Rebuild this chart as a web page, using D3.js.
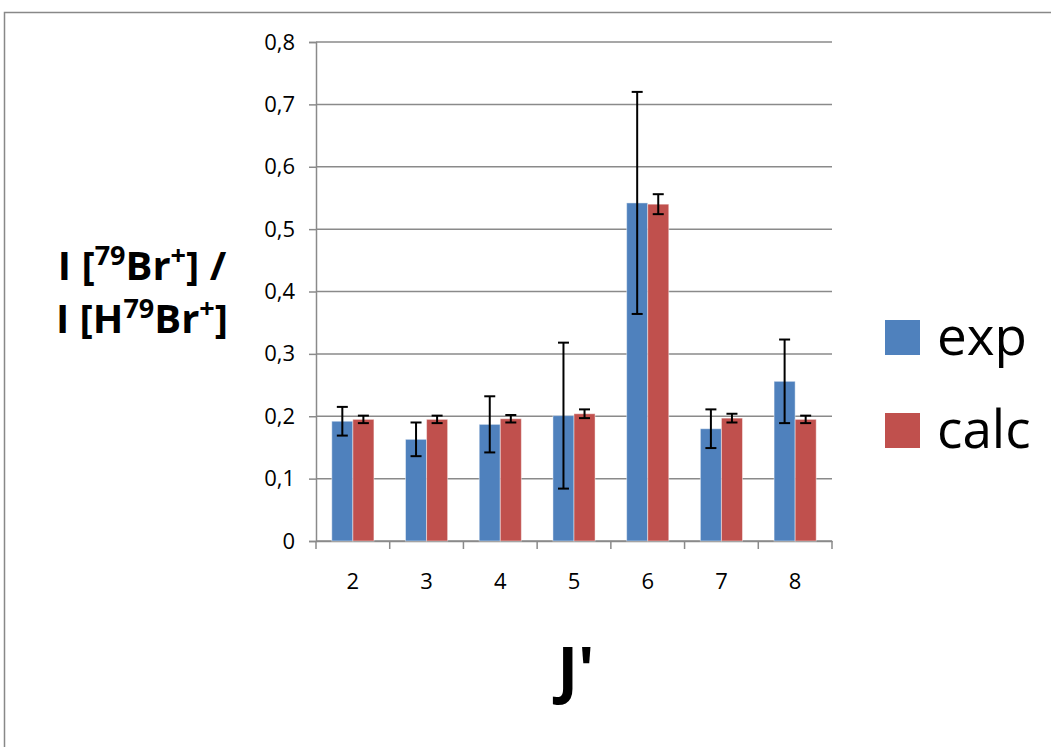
<!DOCTYPE html>
<html>
<head>
<meta charset="utf-8">
<script src="https://cdn.jsdelivr.net/npm/d3@7"></script>
<style>
  html, body { margin: 0; padding: 0; background: #fff; }
  svg { display: block; }
  text { font-family: "Open Sans", "Liberation Sans", sans-serif; fill: #000; }
</style>
</head>
<body>
<svg id="chart" width="1051" height="747"></svg>
<script>
// Rotational level J' and the ion-yield ratio for measured and calculated data
const categories = ["2", "3", "4", "5", "6", "7", "8"];
const seriesNames = ["exp", "calc"];
const expValues  = [0.192, 0.163, 0.187, 0.201, 0.542, 0.180, 0.256];
const expErrors  = [0.023, 0.027, 0.045, 0.117, 0.178, 0.031, 0.067];
const calcValues = [0.195, 0.195, 0.196, 0.204, 0.540, 0.197, 0.195];
const calcErrors = [0.006, 0.006, 0.006, 0.007, 0.016, 0.007, 0.006];
const yTicks = [0, 0.1, 0.2, 0.3, 0.4, 0.5, 0.6, 0.7, 0.8];
const colors = ["#4F81BD", "#C0504D"];

const svg = d3.select("#chart");

// outer chart frame
svg.append("rect")
  .attr("x", 4.5).attr("y", 12.5)
  .attr("width", 1100).attr("height", 800)
  .attr("fill", "none").attr("stroke", "#888").attr("stroke-width", 1.5);

const plot = { left: 316, right: 832, top: 42, bottom: 541 };

const x = d3.scaleBand()
  .domain(categories)
  .range([plot.left, plot.right])
  .paddingInner(1.5 / 3.5)
  .paddingOuter(0.75 / 3.5);

const xSeries = d3.scaleBand()
  .domain(seriesNames)
  .range([0, x.bandwidth()]);

const y = d3.scaleLinear().domain([0, 0.8]).range([plot.bottom, plot.top]);

const fmt = v => d3.format(".1f")(v).replace(".", ",");

// horizontal gridlines
svg.append("g")
  .selectAll("line")
  .data(yTicks)
  .join("line")
  .attr("x1", plot.left).attr("x2", plot.right)
  .attr("y1", d => y(d)).attr("y2", d => y(d))
  .attr("stroke", "#8a8a8a").attr("stroke-width", 1.5);

// y axis
const yAxis = svg.append("g")
  .attr("transform", `translate(${plot.left},0)`)
  .call(d3.axisLeft(y).tickValues(yTicks).tickSize(7).tickPadding(14)
    .tickFormat(d => d === 0 ? "0" : fmt(d)));
yAxis.attr("font-size", null).attr("font-family", null);
yAxis.select(".domain").attr("stroke", "#8a8a8a").attr("stroke-width", 1.5);
yAxis.selectAll(".tick line").attr("stroke", "#8a8a8a").attr("stroke-width", 1.5);
yAxis.selectAll("text").style("font-size", "22px").attr("fill", "#000");

// x axis with ticks between categories
const xAxis = svg.append("g")
  .attr("transform", `translate(0,${plot.bottom})`)
  .call(d3.axisBottom(x).tickSize(0).tickPadding(32));
xAxis.attr("font-size", null).attr("font-family", null);
xAxis.select(".domain").attr("stroke", "#8a8a8a").attr("stroke-width", 1.5);
xAxis.selectAll("text").style("font-size", "22px").attr("fill", "#000");

const boundaries = categories.map(c => x(c) - x.step() * x.paddingInner() / 2)
  .concat([plot.right]);
svg.append("g")
  .selectAll("line")
  .data(boundaries)
  .join("line")
  .attr("x1", d => d).attr("x2", d => d)
  .attr("y1", plot.bottom).attr("y2", plot.bottom + 8)
  .attr("stroke", "#8a8a8a").attr("stroke-width", 1.5);

// bars
const rows = categories.map((c, i) => ({
  cat: c,
  items: [
    { s: "exp", v: expValues[i], e: expErrors[i], color: colors[0] },
    { s: "calc", v: calcValues[i], e: calcErrors[i], color: colors[1] }
  ]
}));

const groups = svg.append("g")
  .selectAll("g")
  .data(rows)
  .join("g")
  .attr("transform", d => `translate(${x(d.cat)},0)`);

groups.selectAll("rect")
  .data(d => d.items)
  .join("rect")
  .attr("x", d => xSeries(d.s))
  .attr("width", xSeries.bandwidth())
  .attr("y", d => y(d.v))
  .attr("height", d => y(0) - y(d.v))
  .attr("fill", d => d.color)
  .attr("stroke", "rgba(255,255,255,0.45)")
  .attr("stroke-width", 1);

// error bars
const cap = 5.5;
const eb = groups.selectAll("g.err")
  .data(d => d.items)
  .join("g")
  .attr("class", "err")
  .attr("stroke", "#000")
  .attr("stroke-width", 2);
eb.append("line")
  .attr("x1", d => xSeries(d.s) + xSeries.bandwidth() / 2)
  .attr("x2", d => xSeries(d.s) + xSeries.bandwidth() / 2)
  .attr("y1", d => y(d.v + d.e))
  .attr("y2", d => y(d.v - d.e));
eb.append("line")
  .attr("x1", d => xSeries(d.s) + xSeries.bandwidth() / 2 - cap)
  .attr("x2", d => xSeries(d.s) + xSeries.bandwidth() / 2 + cap)
  .attr("y1", d => y(d.v + d.e))
  .attr("y2", d => y(d.v + d.e));
eb.append("line")
  .attr("x1", d => xSeries(d.s) + xSeries.bandwidth() / 2 - cap)
  .attr("x2", d => xSeries(d.s) + xSeries.bandwidth() / 2 + cap)
  .attr("y1", d => y(d.v - d.e))
  .attr("y2", d => y(d.v - d.e));

// y axis title, two lines with superscripts
function titleLine(yPos, parts) {
  const t = svg.append("text")
    .attr("x", 142).attr("y", yPos)
    .attr("text-anchor", "middle")
    .style("font-size", "40px").style("font-weight", "bold");
  parts.forEach(p => {
    const sp = t.append("tspan").text(p.t);
    if (p.sup) sp.style("font-size", "27px").attr("dy", -15);
    if (p.down) sp.attr("dy", 15);
  });
}
titleLine(280, [
  { t: "I [" }, { t: "79", sup: true }, { t: "Br", down: true },
  { t: "+", sup: true }, { t: "] /", down: true }
]);
titleLine(333, [
  { t: "I [H" }, { t: "79", sup: true }, { t: "Br", down: true },
  { t: "+", sup: true }, { t: "]", down: true }
]);

// x axis title
svg.append("text")
  .attr("x", 576).attr("y", 692)
  .attr("text-anchor", "middle")
  .style("font-size", "62px").style("font-weight", "bold")
  .text("J'");

// legend
const legend = svg.append("g")
  .selectAll("g")
  .data(seriesNames)
  .join("g")
  .attr("transform", (d, i) => `translate(885,${320 + i * 93})`);
legend.append("rect")
  .attr("width", 35).attr("height", 35)
  .attr("fill", (d, i) => colors[i]);
legend.append("text")
  .attr("x", 52).attr("y", 35)
  .style("font-size", "53px")
  .text(d => d);
</script>
</body>
</html>
